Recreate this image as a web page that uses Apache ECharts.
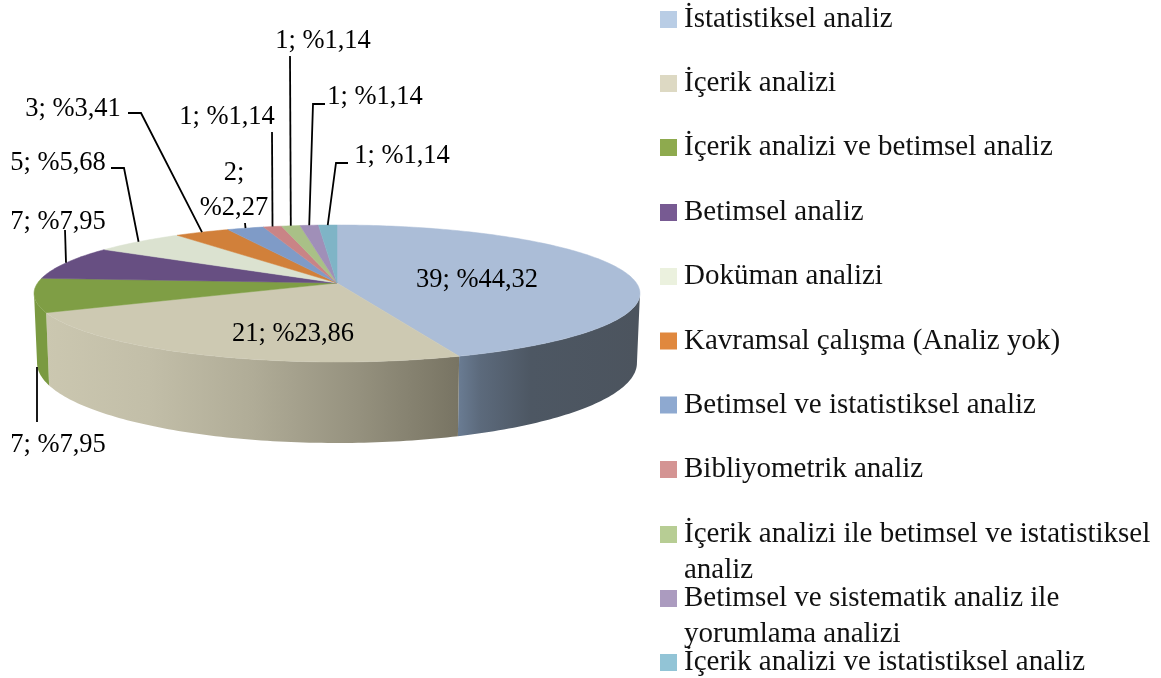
<!DOCTYPE html>
<html><head><meta charset="utf-8">
<style>html,body{margin:0;padding:0;background:#fff}#c{width:1161px;height:678px}</style>
<script src="https://cdn.jsdelivr.net/npm/echarts@6/dist/echarts.min.js"></script>
</head><body><div id="c"></div>
<script>
const categories = ['İstatistiksel analiz','İçerik analizi','İçerik analizi ve betimsel analiz','Betimsel analiz','Doküman analizi','Kavramsal çalışma (Analiz yok)','Betimsel ve istatistiksel analiz','Bibliyometrik analiz','İçerik analizi ile betimsel ve istatistiksel\nanaliz','Betimsel ve sistematik analiz ile\nyorumlama analizi','İçerik analizi ve istatistiksel analiz'];
const counts = [39,21,7,7,5,3,2,1,1,1,1];
const percents = ['44,32','23,86','7,95','7,95','5,68','3,41','2,27','1,14','1,14','1,14','1,14'];

const legendColors = ['#b9cde5','#ddd9c3','#8eaa4e','#775a92','#ebf1de','#e0883e','#8ea9d0','#d49493','#b7cd94','#ab9bbf','#92c4d6'];
const faceColors = ['#abbdd7','#cdc9b2','#7f9e45','#674f82','#dbe2d0','#d1803a','#7f9bc7','#c98486','#a9c087','#a08fb8','#7fb4c6'];
const legendCenters = [19.5,83.5,147.5,212.5,276.5,341,405,469.5,534.5,598.5,662.5];

// Projection of the pie
const CX=337, CY=283, B=299.4, A=66.9, K=0.153, BOTTOM_SCALE=0.99;
const TOP_CY=293.5, BOTTOM_CY=363, BOTTOM_RY_RATIO=80/68.5;
const FONT='"Liberation Serif"', FS=26.5, LEGEND_FS=29, LEGEND_LH=36;
const total = counts.reduce((a,b)=>a+b,0);
function rim(deg){const t=deg*Math.PI/180,X=Math.sin(t),Y=-Math.cos(t),w=1-K*Y;return [CX+B*X/w,CY+A*Y/w];}
function low(p){return [CX+(p[0]-CX)*BOTTOM_SCALE,BOTTOM_CY+(p[1]-TOP_CY)*BOTTOM_RY_RATIO];}
const WR=Math.acos(-K)*180/Math.PI, WL=360-WR;

const wallFill = {
 0:{type:'linear',x:458,y:0,x2:640,y2:0,global:true,colorStops:[{offset:0,color:'#6a7c93'},{offset:.12,color:'#5c6a7c'},{offset:.4,color:'#4d5763'},{offset:1,color:'#4c545e'}]},
 1:{type:'linear',x:46,y:0,x2:458,y2:0,global:true,colorStops:[{offset:0,color:'#cbc7b0'},{offset:.25,color:'#c2bea8'},{offset:.5,color:'#b0ac97'},{offset:.75,color:'#96927f'},{offset:1,color:'#787463'}]},
 2:'#7a9a41'
};
// label layout: [centre x, centre y]; leader path starts from the label side and ends on the rim
const labelPos = [[477,280],[293,334],[58,445],[58,222],[58,163],[73,109.5],[234,191],[227,117],[323,41.5],[375,97],[402,156]];
const leaderPath = [null,null,[[37,422]],[[65,230]],[[111,168],[124,168]],[[128,113],[141,113]],[[245,223]],[[272,132]],[[290,56]],[[325,104],[313,104]],[[348,163],[336,163]]];

function labelText(i){
  const s=counts[i]+'; %'+percents[i];
  return i===6 ? counts[i]+';\n%'+percents[i] : s;
}
function makeRender(i){
  return function(params,api){
    const before=counts.slice(0,i).reduce((a,b)=>a+b,0);
    const a0=before/total*360, a1=(before+api.value(0))/total*360;
    const ch=[];
    const w0=Math.max(a0,WR), w1=Math.min(a1,WL);
    if(w1>w0){
      const up=[],dn=[];
      for(let d=w0;d<w1;d+=1){up.push(rim(d));}
      up.push(rim(w1));
      up.forEach(p=>dn.unshift(low(p)));
      ch.push({type:'polygon',shape:{points:up.concat(dn)},style:{fill:wallFill[i]||faceColors[i]}});
    }
    const pts=[[CX,CY]];
    for(let d=a0;d<a1;d+=1){pts.push(rim(d));}
    pts.push(rim(a1));
    ch.push({type:'polygon',shape:{points:pts},style:{fill:faceColors[i],stroke:faceColors[i],lineWidth:0.5},z2:5});
    if(leaderPath[i]){
      const m=rim((a0+a1)/2);
      const end= i===2 ? [leaderPath[i][0][0],367] : m;
      ch.push({type:'polyline',shape:{points:leaderPath[i].concat([end])},style:{stroke:'#000',lineWidth:1.8,fill:null},z2:8});
    }
    ch.push({type:'text',z2:10,style:{text:labelText(i),x:labelPos[i][0],y:labelPos[i][1],align:'center',verticalAlign:'middle',fill:'#000',fontFamily:FONT,fontSize:FS,lineHeight:35}});
    return {type:'group',children:ch};
  };
}
const series=categories.map((c,i)=>({
  type:'custom',name:c,coordinateSystem:'none',silent:true,animation:false,
  itemStyle:{color:legendColors[i]},data:[[counts[i]]],renderItem:makeRender(i)
}));
// Swatch icon: 17px square, padded so the label starts 7px after it and sits beside the first text line.
const H2=LEGEND_LH*2;
const iconOne='path://M0,0H17V17H0Z M19,17L19,17Z';
const iconTwo='path://M0,0L0,0Z M0,'+(LEGEND_LH/2-8.5)+'H17V'+(LEGEND_LH/2+8.5)+'H0Z M19,'+H2+'L19,'+H2+'Z';
const legend=categories.map((c,i)=>{
  const two=c.indexOf('\n')>=0;
  return {data:[{name:c,icon:two?iconTwo:iconOne}],orient:'vertical',left:660,top:legendCenters[i]-LEGEND_LH/2,padding:0,itemWidth:19,itemHeight:two?H2:17,selectedMode:false,
    textStyle:{fontFamily:FONT,fontSize:LEGEND_FS,color:'#111',lineHeight:LEGEND_LH}};
});
const chart=echarts.init(document.getElementById('c'),null,{renderer:'canvas'});
chart.setOption({animation:false,backgroundColor:'#fff',legend,series});
</script></body></html>
